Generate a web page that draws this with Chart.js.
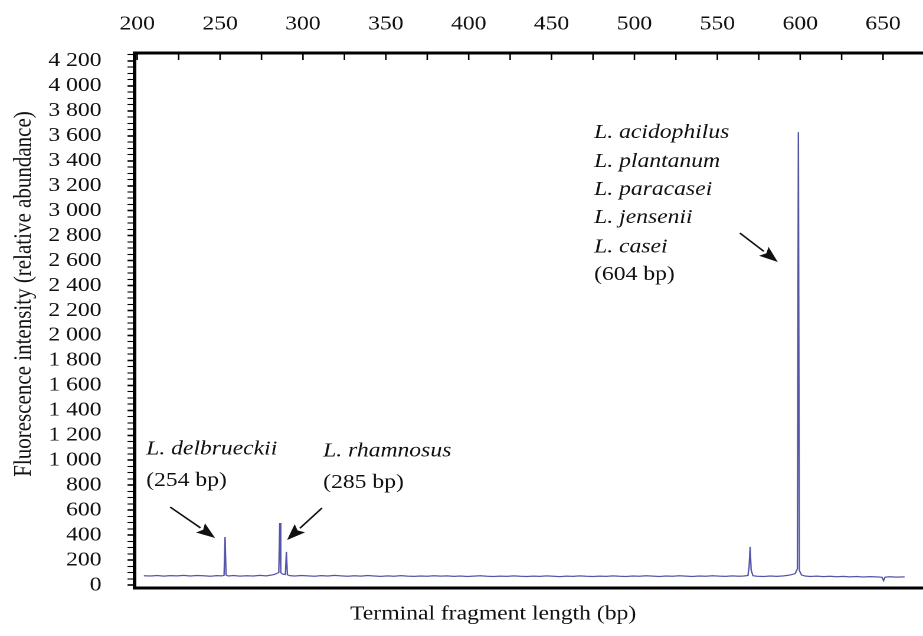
<!DOCTYPE html>
<html>
<head>
<meta charset="utf-8">
<title>T-RFLP profile</title>
<script src="https://cdn.jsdelivr.net/npm/chart.js@4.4.1/dist/chart.umd.min.js"></script>
<style>
  html, body { margin: 0; padding: 0; background: #fff; overflow: hidden; }
  /* the original figure is stretched sideways, so the whole chart is too */
  #wrap { position: absolute; left: 0; top: 0; width: 782px; height: 636px; transform: scaleX(1.1803); transform-origin: 0 0; }
</style>
</head>
<body>
<div id="wrap"><canvas id="chart" width="782" height="636"></canvas></div>
<script>
// Fragment lengths (bp) of the electropherogram trace
const fragmentBp = [
  204, 208, 212, 216, 220, 224, 228, 232, 236, 240, 244, 248, 251, 252.4, 253, 253.6,
  255, 258, 262, 266, 270, 274, 278, 281, 283, 284.6, 285.4, 286, 286.6, 287.6, 289.4,
  290, 290.6, 292, 295, 299, 303, 307, 311, 315, 319, 323, 327, 331, 335, 339, 343, 347,
  351, 355, 359, 363, 367, 371, 375, 379, 383, 387, 391, 395, 399, 403, 407, 411, 415,
  419, 423, 427, 431, 435, 439, 443, 447, 451, 455, 459, 463, 467, 471, 475, 479, 483,
  487, 491, 495, 499, 503, 507, 511, 515, 519, 523, 527, 531, 535, 539, 543, 547, 551,
  555, 559, 563, 566, 568.5, 569.2, 569.8, 570.4, 571.5, 574, 578, 582, 586, 590, 593,
  595.5, 597, 598.3, 598.9, 599.5, 600.8, 603, 606, 610, 614, 618, 622, 626, 630, 634,
  638, 642, 646, 649.4, 650.3, 651.2, 654, 658, 663
];

// Fluorescence intensity at each fragment length
const intensity = [
  74, 72, 76, 71, 75, 73, 77, 72, 76, 74, 70, 75, 73, 78, 385, 80,
  72, 76, 71, 74, 72, 77, 73, 80, 86, 95, 100, 497, 100, 88, 84,
  265, 82, 75, 72, 76, 73, 70, 75, 72, 77, 73, 70, 74, 71, 76, 72, 69,
  73, 70, 75, 71, 69, 72, 70, 74, 71, 73, 69, 72, 68, 71, 74, 70, 68,
  71, 69, 73, 70, 68, 71, 69, 73, 70, 67, 71, 69, 73, 70, 68, 71, 69,
  73, 70, 68, 72, 70, 74, 71, 68, 72, 70, 74, 71, 68, 72, 70, 74, 71,
  69, 73, 70, 72, 76, 150, 305, 120, 74, 70, 68, 72, 69, 73, 78,
  86, 92, 130, 3630, 115, 80, 72, 68, 71, 67, 70, 66, 69, 65, 68,
  64, 67, 65, 62, 35, 63, 66, 63, 65
];

// Axis ticks
const xTickLabels = [200, 250, 300, 350, 400, 450, 500, 550, 600, 650];
const xMinorTicks = [225, 275, 325, 375, 425, 475, 525, 575, 625, 675];
const yTickLabels = [0, 200, 400, 600, 800, 1000, 1200, 1400, 1600, 1800, 2000,
  2200, 2400, 2600, 2800, 3000, 3200, 3400, 3600, 3800, 4000, 4200];

const xTitle = 'Terminal fragment length (bp)';
const yTitle = 'Fluorescence intensity (relative abundance)';

// Peak labels, placed in data units (bp, intensity)
const peakLabels = [
  { text: 'L. delbrueckii', bp: 205.4, value: 1090, italic: true },
  { text: '(254 bp)', bp: 205.4, value: 834, italic: false },
  { text: 'L. rhamnosus', bp: 312.2, value: 1074, italic: true },
  { text: '(285 bp)', bp: 312.2, value: 818, italic: false },
  { text: 'L. acidophilus', bp: 475.7, value: 3623, italic: true },
  { text: 'L. plantanum', bp: 475.7, value: 3391, italic: true },
  { text: 'L. paracasei', bp: 475.7, value: 3166, italic: true },
  { text: 'L. jensenii', bp: 475.7, value: 2942, italic: true },
  { text: 'L. casei', bp: 475.7, value: 2709, italic: true },
  { text: '(604 bp)', bp: 475.7, value: 2485, italic: false }
];

// Arrows pointing at the peaks: from [bp, value] to [bp, value]
const peakArrows = [
  { from: [219.9, 625], to: [247.0, 377] },
  { from: [311.5, 617], to: [290.4, 361] },
  { from: [563.6, 2821], to: [586.5, 2589] }
];

const serif = '"Liberation Serif", "Times New Roman", serif';
const inkColor = '#111';

// Format with a space as thousands separator, e.g. "4 200"
function formatTick(v) {
  if (v >= 1000) {
    return Math.floor(v / 1000) + ' ' + String(v % 1000).padStart(3, '0');
  }
  return String(v);
}

function drawArrow(c, x1, y1, x2, y2) {
  const ang = Math.atan2(y2 - y1, x2 - x1);
  const headLen = 16, headHalf = 6;
  const bx = x2 - headLen * Math.cos(ang);
  const by = y2 - headLen * Math.sin(ang);
  c.beginPath();
  c.moveTo(x1, y1);
  c.lineTo(bx, by);
  c.stroke();
  c.beginPath();
  c.moveTo(x2, y2);
  c.lineTo(bx + headHalf * Math.sin(ang), by - headHalf * Math.cos(ang));
  c.lineTo(bx + 3 * Math.cos(ang), by + 3 * Math.sin(ang));
  c.lineTo(bx - headHalf * Math.sin(ang), by + headHalf * Math.cos(ang));
  c.closePath();
  c.fill();
}

// Inward ticks on the top axis, peak labels, arrows and axis titles
const overlay = {
  id: 'overlay',
  afterDraw(chart) {
    const c = chart.ctx;
    const xs = chart.scales.x;
    const ys = chart.scales.y;
    const top = chart.chartArea.top;
    c.save();

    c.strokeStyle = '#000';
    c.lineWidth = 1.3;
    xTickLabels.concat(xMinorTicks).forEach(v => {
      const px = xs.getPixelForValue(v);
      if (px < chart.chartArea.left || px > chart.chartArea.right) return;
      c.beginPath();
      c.moveTo(px, top);
      c.lineTo(px, top + 7);
      c.stroke();
    });

    c.fillStyle = inkColor;
    c.textBaseline = 'middle';
    c.textAlign = 'left';
    peakLabels.forEach(l => {
      c.font = (l.italic ? 'italic ' : '') + '20px ' + serif;
      c.fillText(l.text, xs.getPixelForValue(l.bp), ys.getPixelForValue(l.value));
    });

    c.strokeStyle = '#111';
    c.fillStyle = '#111';
    c.lineWidth = 1.5;
    peakArrows.forEach(a => {
      drawArrow(c,
        xs.getPixelForValue(a.from[0]), ys.getPixelForValue(a.from[1]),
        xs.getPixelForValue(a.to[0]), ys.getPixelForValue(a.to[1]));
    });

    c.fillStyle = inkColor;
    c.textAlign = 'center';
    c.font = '20px ' + serif;
    c.fillText(xTitle, 417.8, 614);
    c.save();
    c.translate(20.3, 294);
    c.rotate(-Math.PI / 2);
    c.font = '21px ' + serif;
    c.fillText(yTitle, 0, 0);
    c.restore();

    c.restore();
  }
};

const trace = fragmentBp.map((bp, i) => ({ x: bp, y: intensity[i] }));

new Chart(document.getElementById('chart'), {
  type: 'scatter',
  data: {
    datasets: [{
      data: trace,
      showLine: true,
      borderColor: '#5555a8',
      borderWidth: 1.2,
      pointRadius: 0,
      tension: 0,
      xAxisID: 'x',
      yAxisID: 'y'
    }]
  },
  options: {
    responsive: false,
    animation: false,
    devicePixelRatio: 2,
    layout: { padding: 0 },
    plugins: {
      legend: { display: false },
      tooltip: { enabled: false }
    },
    scales: {
      x: {
        type: 'linear',
        position: 'top',
        min: 198.4,
        max: 674.1,
        afterBuildTicks: scale => { scale.ticks = xTickLabels.map(v => ({ value: v })); },
        afterFit: scale => { scale.height = 53; },
        ticks: {
          autoSkip: false,
          maxRotation: 0,
          padding: 17,
          color: inkColor,
          font: { family: serif, size: 20 },
          callback: v => String(v)
        },
        grid: { display: true, drawOnChartArea: false, drawTicks: false },
        border: { display: true, color: '#000', width: 3 }
      },
      xb: {
        type: 'linear',
        position: 'bottom',
        min: 198.4,
        max: 674.1,
        afterFit: scale => { scale.height = 48; },
        ticks: { display: false },
        grid: { display: true, drawOnChartArea: false, drawTicks: false },
        border: { display: true, color: '#000', width: 3 }
      },
      y: {
        type: 'linear',
        position: 'left',
        min: -24,
        max: 4264,
        afterFit: scale => { scale.width = 114; },
        ticks: {
          stepSize: 50,
          includeBounds: false,
          autoSkip: false,
          padding: 22,
          color: inkColor,
          font: { family: serif, size: 20 },
          callback: v => yTickLabels.includes(v) ? formatTick(v) : ''
        },
        grid: {
          drawOnChartArea: false,
          drawTicks: true,
          tickLength: 6,
          tickColor: '#000',
          tickWidth: ctx => (ctx.tick && yTickLabels.includes(ctx.tick.value)) ? 1.6 : 1.1
        },
        border: { display: true, color: '#000', width: 3 }
      }
    }
  },
  plugins: [overlay]
});
</script>
</body>
</html>
